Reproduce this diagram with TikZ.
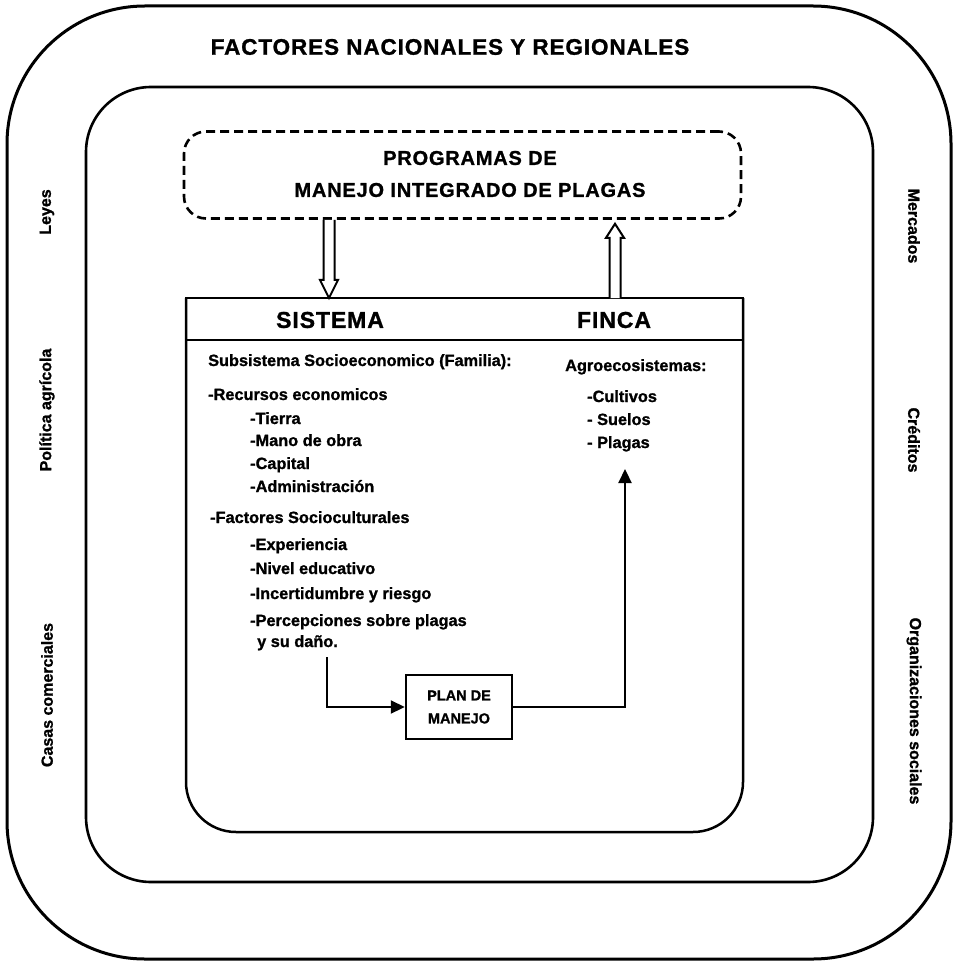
\documentclass[tikz,border=0pt]{standalone}
\usepackage{fontspec}
\setmainfont{Liberation Sans}
\newfontfamily\capsfont[LetterSpace=4,FakeBold=1.2]{Liberation Sans Bold}
\newfontfamily\txtfont[FakeBold=1.2]{Liberation Sans Bold}
\usetikzlibrary{arrows.meta,calc}
\begin{document}
\begin{tikzpicture}[x=1pt,y=-1pt,
  bigframe/.style={draw, line width=3pt, inner sep=0pt, outer sep=0pt},
  boxline/.style={line width=2.5pt},
  hollow/.style={draw, line width=2pt, fill=white, line join=miter},
  conn/.style={line width=2.2pt},
  tipstyle/.style={-{Triangle[length=14pt,width=13pt]}},
  title/.style={font=\capsfont\fontsize{22.5}{26}\selectfont, inner sep=0pt},
  head/.style={font=\capsfont\fontsize{23}{27}\selectfont, inner sep=0pt},
  body/.style={anchor=base west, font=\txtfont\fontsize{16.3}{19}\selectfont, inner sep=0pt},
  side/.style={font=\txtfont\fontsize{16}{18}\selectfont, inner sep=0pt}]
\useasboundingbox (0,0) rectangle (956,965);

% frames
\node[bigframe, rounded corners=138pt, minimum width=944pt, minimum height=953pt] (outer) at (479,482.5) {};
\node[bigframe, line width=2.6pt, rounded corners=65pt, minimum width=787pt, minimum height=795pt] (inner) at (479.5,484.5) {};

\node[title] (ttl) at (450,47) {FACTORES NACIONALES Y REGIONALES};

% side labels
\node[side, rotate=90] (leyes) at (47,212) {Leyes};
\node[side, rotate=90] (polit) at (47,410) {Política agrícola};
\node[side, rotate=90] (casas) at (47,695) {Casas comerciales};
\node[side, rotate=-90] (merc) at (914,226) {Mercados};
\node[side, rotate=-90] (cred) at (914,440) {Créditos};
\node[side, rotate=-90] (orga) at (914,711) {Organizaciones sociales};

% programas box
\node[draw, line width=2.6pt, dash pattern=on 9pt off 5pt, rounded corners=22pt,
  minimum width=557pt, minimum height=87pt, inner sep=0pt] (prog) at (462.5,175) {};
\node[align=center, inner sep=0pt, font=\capsfont\fontsize{20}{32}\selectfont] (progtxt) at (470,174) {PROGRAMAS DE\\MANEJO INTEGRADO DE PLAGAS};

% sistema finca box
\node[minimum width=557pt, minimum height=534pt, inner sep=0pt, outer sep=0pt] (sys) at (464.5,565) {};
\draw[boxline, rounded corners=50pt] (sys.north west) -- (sys.south west) -- (sys.south east) -- (sys.north east);
\draw[boxline, line cap=rect] (sys.north west) -- (sys.north east);
\draw[boxline] ($(sys.north west)+(0,42)$) -- ($(sys.north east)+(0,42)$);

\node[head] (sistema) at (330,320) {SISTEMA};
\node[head] (finca) at (614,320) {FINCA};

% hollow arrows
\coordinate (xd) at (329,0);
\coordinate (xu) at (615,0);
\coordinate (d1) at (prog.south -| xd);
\coordinate (d2) at (sys.north -| xd);
\draw[hollow] let \p1=(d1), \p2=(d2) in
  (\x1-5.5pt,\y1) -- (\x1-5.5pt,\y2+18pt) -- (\x1-9pt,\y2+18pt) -- (\x2,\y2)
  -- (\x1+9pt,\y2+18pt) -- (\x1+5.5pt,\y2+18pt) -- (\x1+5.5pt,\y1);
\coordinate (u1) at (sys.north -| xu);
\coordinate (u2) at ($(prog.south -| xu)+(0,4)$);
\draw[hollow] let \p1=(u1), \p2=(u2) in
  (\x1-5.5pt,\y1) -- (\x1-5.5pt,\y2-14pt) -- (\x1-9pt,\y2-14pt) -- (\x2,\y2)
  -- (\x1+9pt,\y2-14pt) -- (\x1+5.5pt,\y2-14pt) -- (\x1+5.5pt,\y1);

% left column text
\node[body] (sub) at (208,366) {Subsistema Socioeconomico (Familia):};
\node[body] (rec) at (208,400) {-Recursos economicos};
\node[body] (tie) at (250,424) {-Tierra};
\node[body] (man) at (250,446) {-Mano de obra};
\node[body] (capi) at (250,469) {-Capital};
\node[body] (adm) at (250,492) {-Administración};
\node[body] (fac) at (210,523) {-Factores Socioculturales};
\node[body] (expe) at (250,550) {-Experiencia};
\node[body] (niv) at (250,574) {-Nivel educativo};
\node[body] (inc) at (250,599) {-Incertidumbre y riesgo};
\node[body] (per) at (250,626) {-Percepciones sobre plagas};
\node[body] (dan) at (257,647) {y su daño.};

% right column text
\node[body] (agr) at (565,371) {Agroecosistemas:};
\node[body] (cul) at (587,402) {-Cultivos};
\node[body] (sue) at (587,425) {- Suelos};
\node[body] (pla) at (587,448) {- Plagas};

% plan de manejo
\node[draw, line width=2.5pt, minimum width=106pt, minimum height=64pt, inner sep=0pt, align=center,
  font=\txtfont\fontsize{14.5}{23}\selectfont] (plan) at (459,707) {PLAN DE\\MANEJO};

\coordinate (s1) at (327,657);
\coordinate (pltip) at (625,469);
\draw[conn, tipstyle] (s1) |- (plan.west);
\draw[conn, tipstyle] (plan.east) -| (pltip);
\end{tikzpicture}
\end{document}
